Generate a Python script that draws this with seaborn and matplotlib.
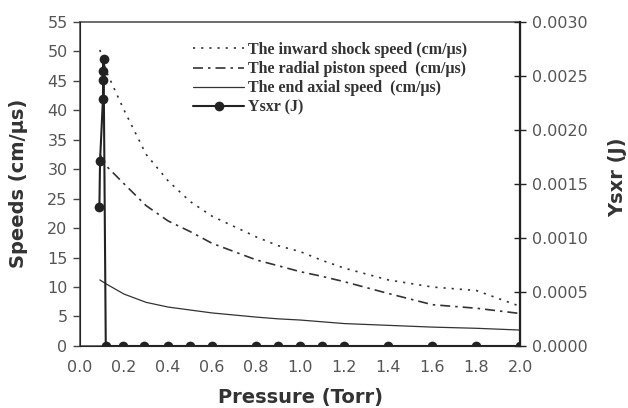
import matplotlib
matplotlib.use("Agg")
import matplotlib.pyplot as plt
import pandas as pd
import seaborn as sns

# pressure grid for the speed curves (Torr)
pressure = [0.09, 0.12, 0.2, 0.3, 0.4, 0.5, 0.6, 0.8, 0.9, 1.0, 1.1, 1.2, 1.4, 1.6, 1.8, 2.0]
shock_speed = [50.2, 46.5, 40.0, 32.5, 28.0, 24.5, 22.0, 18.5, 17.0, 16.0, 14.5, 13.2, 11.2, 10.0, 9.4, 6.7]
piston_speed = [32.5, 30.5, 27.5, 23.8, 21.2, 19.4, 17.4, 14.6, 13.6, 12.6, 11.8, 10.9, 8.9, 7.0, 6.4, 5.5]
axial_speed = [11.2, 10.5, 8.8, 7.4, 6.6, 6.1, 5.6, 4.9, 4.6, 4.4, 4.1, 3.8, 3.5, 3.2, 3.0, 2.7]

# soft x-ray yield (J)
ysxr_pressure = [0.088, 0.091, 0.104, 0.105, 0.106, 0.107, 0.117, 0.195, 0.29, 0.4, 0.5, 0.6,
                 0.8, 0.9, 1.0, 1.1, 1.2, 1.4, 1.6, 1.8, 2.0]
ysxr = [0.00129, 0.00171, 0.00228, 0.00246, 0.00254, 0.00265, 0, 0, 0, 0, 0, 0,
        0, 0, 0, 0, 0, 0, 0, 0, 0]

speed_labels = ["The inward shock speed (cm/\u03bcs)",
                "The radial piston speed  (cm/\u03bcs)",
                "The end axial speed  (cm/\u03bcs)"]
ysxr_label = "Ysxr (J)"

speeds = pd.DataFrame({"p": pressure, "shock": shock_speed,
                       "piston": piston_speed, "axial": axial_speed})
yields = pd.DataFrame({"p": ysxr_pressure, "y": ysxr})

sns.set_style("ticks")
plt.rcParams["font.family"] = ["DejaVu Sans"]

fig = plt.figure(figsize=(6.28, 4.08), dpi=100)
ax = fig.add_axes([0.1274, 0.152, 0.7014, 0.795])
ax2 = ax.twinx()

line_col = "#333333"
sns.lineplot(data=speeds, x="p", y="shock", ax=ax, color=line_col, lw=1.2,
             estimator=None, label=speed_labels[0])
sns.lineplot(data=speeds, x="p", y="piston", ax=ax, color=line_col, lw=1.2,
             estimator=None, label=speed_labels[1])
sns.lineplot(data=speeds, x="p", y="axial", ax=ax, color=line_col, lw=0.9,
             estimator=None, label=speed_labels[2])
ax.lines[0].set_dashes((1.3, 3.6))
ax.lines[1].set_dashes((6, 3, 1.5, 3))

sns.lineplot(data=yields, x="p", y="y", ax=ax2, color="#222222", lw=1.5,
             marker="o", markersize=7, markeredgewidth=0, estimator=None,
             sort=False, label=ysxr_label)

ax.set_xlim(0, 2.0)
ax.set_ylim(0, 55)
ax2.set_ylim(0, 0.003)
ax.set_xticks([i / 5 for i in range(11)])
ax.set_xticklabels([f"{i / 5:.1f}" for i in range(11)])
ax.set_yticks(range(0, 56, 5))
ax2.set_yticks([i * 0.0005 for i in range(7)])
ax2.set_yticklabels([f"{i * 0.0005:.4f}" for i in range(7)])

tick_col = "#555555"
ax.tick_params(axis="x", length=0, labelsize=11.5, labelcolor=tick_col, pad=10)
ax.tick_params(axis="y", length=5, width=1, color="#444444", labelsize=11.5,
               labelcolor=tick_col, direction="out", pad=4)
ax2.tick_params(axis="y", length=9, width=1, color="#222222", labelsize=11.5,
                labelcolor=tick_col, direction="inout", pad=4)

for side in ["left", "bottom", "top"]:
    ax.spines[side].set_color("#444444")
    ax.spines[side].set_linewidth(1.1)
ax2.spines["right"].set_color("#222222")
ax2.spines["right"].set_linewidth(1.6)
ax2.spines["top"].set_visible(False)

label_font = {"fontsize": 14, "fontweight": "bold", "color": "#333333"}
ax.set_xlabel("Pressure (Torr)", **label_font)
ax.set_ylabel("Speeds (cm/\u03bcs)", **label_font)
ax2.set_ylabel("Ysxr (J)", **label_font)
ax.xaxis.set_label_coords(0.5, -0.128)
ax.yaxis.set_label_coords(-0.118, 0.5)
ax2.yaxis.set_label_coords(1.198, 0.52)

h1, l1 = ax.get_legend_handles_labels()
h2, l2 = ax2.get_legend_handles_labels()
ax2.get_legend().remove()
leg = ax.legend(h1 + h2, l1 + l2, loc="upper left", bbox_to_anchor=(0.257, 0.937),
                frameon=False, borderpad=0, borderaxespad=0, handlelength=3.2,
                handletextpad=0.25, labelspacing=0.19,
                prop={"family": ["Liberation Serif", "DejaVu Serif"], "weight": "bold", "size": 11.5})
for text in leg.get_texts():
    text.set_color("#333333")

fig.savefig("out.png", dpi=100)
plt.close(fig)
